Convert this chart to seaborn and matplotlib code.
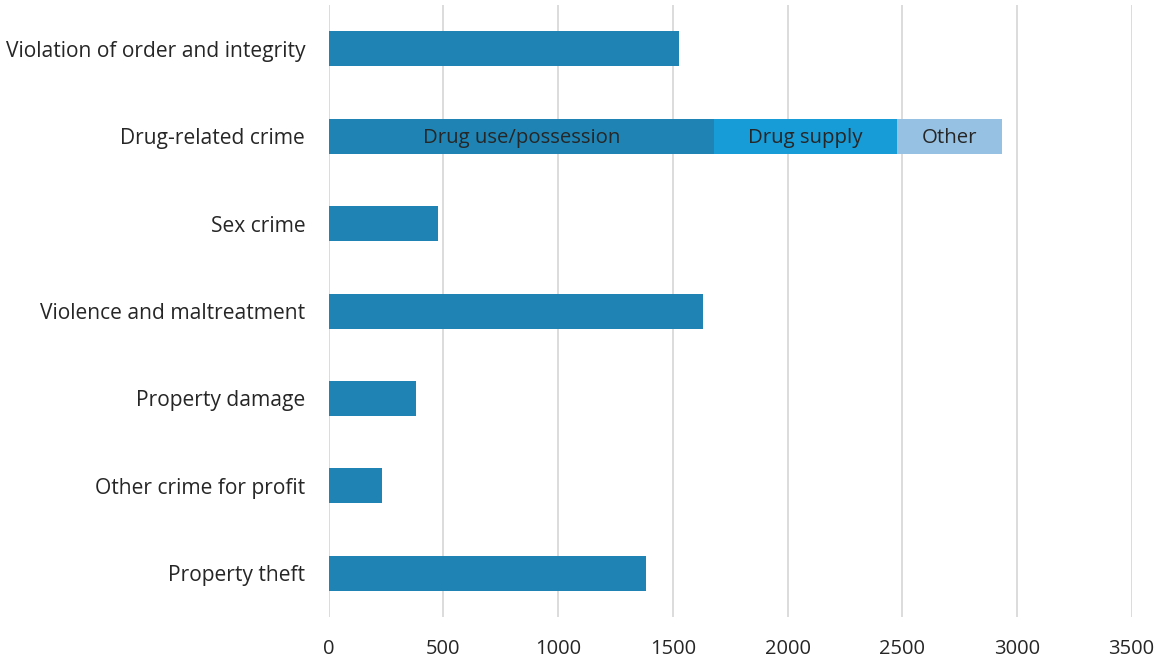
import matplotlib
matplotlib.use("Agg")
import matplotlib.pyplot as plt
import seaborn as sns
import pandas as pd

categories = [
    "Violation of order and integrity",
    "Drug-related crime",
    "Sex crime",
    "Violence and maltreatment",
    "Property damage",
    "Other crime for profit",
    "Property theft",
]
totals = [1527, None, 478, 1633, 380, 234, 1385]

drug_parts = ["Drug use/possession", "Drug supply", "Other"]
drug_values = [1680, 797, 457]

MAIN = "#1F84B4"
part_colors = ["#1F84B4", "#179CD7", "#97C1E3"]
TEXT = "#262626"

sns.set_theme(style="white")
plt.rcParams["font.family"] = ["Open Sans", "DejaVu Sans"]

fig = plt.figure(figsize=(11.58, 6.59), dpi=100)
ax = fig.add_axes([0.2839, 0.0637, 0.9772 - 0.2839, 0.9924 - 0.0637])

drug_idx = categories.index("Drug-related crime")

# Plain categories
plain = pd.DataFrame({
    "category": [c for c, v in zip(categories, totals) if v is not None],
    "value": [v for v in totals if v is not None],
})
sns.barplot(data=plain, y="category", x="value", order=categories,
            color=MAIN, saturation=1, width=0.4, orient="h",
            linewidth=0, ax=ax)

# Stacked drug-related bar: draw cumulative layers from longest to shortest
cum = []
s = 0
for v in drug_values:
    s += v
    cum.append(s)
for part, end, col in reversed(list(zip(drug_parts, cum, part_colors))):
    layer = pd.DataFrame({"category": [categories[drug_idx]], "value": [end]})
    sns.barplot(data=layer, y="category", x="value", order=categories,
                color=col, saturation=1, width=0.4, orient="h",
                linewidth=0, ax=ax)

# Segment labels
start = 0
for part, v in zip(drug_parts, drug_values):
    ax.text(start + v / 2, drug_idx + 0.02, part, ha="center", va="center",
            fontsize=14.7, color=TEXT)
    start += v

ax.set_xlim(0, 3500)
ax.set_ylim(6.5, -0.5)
ax.set_xticks(range(0, 3501, 500))
ax.grid(axis="x", color="#D9D9D9", linewidth=1.3)
ax.grid(axis="y", visible=False)
ax.set_axisbelow(True)
for sp in ax.spines.values():
    sp.set_visible(False)
ax.set_xlabel("")
ax.set_ylabel("")
ax.tick_params(axis="y", length=0, pad=17, labelsize=15.1, labelcolor=TEXT)
ax.tick_params(axis="x", length=0, pad=16, labelsize=14.5, labelcolor=TEXT)

fig.savefig("out.png", dpi=100)
